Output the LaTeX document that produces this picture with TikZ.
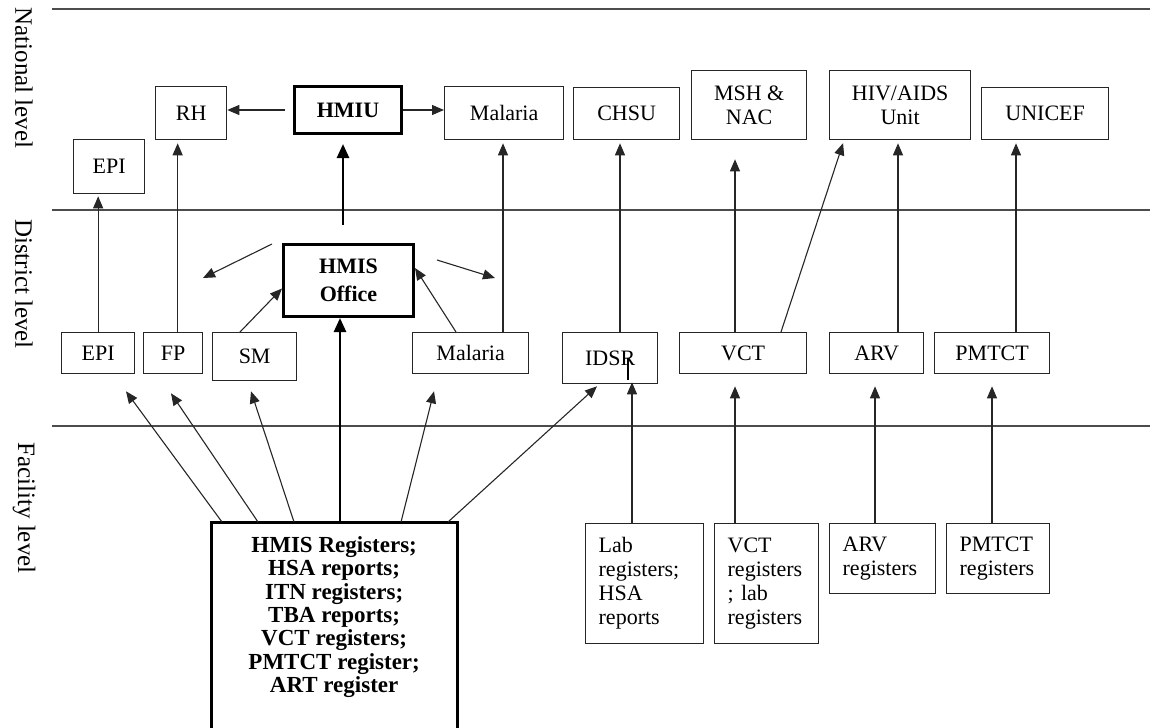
\documentclass[tikz,border=0pt]{standalone}
\usepackage{fontspec}
\setmainfont{Liberation Serif}
\usetikzlibrary{arrows.meta}
\newcommand\myfs{\fontsize{22}{24}\selectfont}
\begin{document}
\begin{tikzpicture}[x=1pt,y=-1pt,
  box/.style={draw=black!85, line width=1.3pt, inner sep=0pt, anchor=north west, align=center, font=\myfs},
  tbox/.style={box, draw=black, line width=3pt, font=\myfs\bfseries},
  lbox/.style={box, align=left, inner xsep=13pt},
  arr/.style={draw=black!85, line width=1.1pt, -{Triangle[length=12pt,width=10pt]}},
  tarr/.style={draw=black, line width=2.6pt, -{Triangle[length=14pt,width=12pt]}},
  lvl/.style={line width=1.5pt, draw=black!70},
  side/.style={rotate=-90, font=\fontsize{25}{27}\selectfont, inner sep=0pt}]
\useasboundingbox (0,0) rectangle (1159,728);
\coordinate (bot) at (0,728);

% level lines
\draw[lvl] (52,9) -- (1150,9);
\draw[lvl] (52,210) -- (1150,210);
\draw[lvl] (52,426) -- (1150,426);

% side labels
\node[side] (natl) at (24,78) {National level};
\node[side] (dist) at (24,284) {District level};
\node[side] (faci) at (24,508) {Facility level};

% national level
\node[box, minimum width=71, minimum height=54] (EPIn) at (73,139) {EPI};
\node[box, minimum width=71, minimum height=53] (RH) at (155,86) {RH};
\node[tbox, minimum width=107, minimum height=47] (HMIU) at (293,85) {HMIU};
\node[box, minimum width=119, minimum height=53] (MALn) at (444,86) {Malaria};
\node[box, minimum width=106, minimum height=52] (CHSU) at (573,87) {CHSU};
\node[box, minimum width=115, minimum height=69] (MSH) at (691,70) {MSH \&\\NAC};
\node[box, minimum width=141, minimum height=69] (HIV) at (829,70) {HIV/AIDS\\Unit};
\node[box, minimum width=127, minimum height=52] (UNICEF) at (981,87) {UNICEF};

% district level
\node[tbox, minimum width=130, minimum height=72, font=\fontsize{22}{28}\selectfont\bfseries] (HMISO) at (282,243) {HMIS\\Office};
\node[box, minimum width=73, minimum height=41] (EPId) at (61,332) {EPI};
\node[box, minimum width=59, minimum height=41] (FP) at (143,332) {FP};
\node[box, minimum width=84, minimum height=48] (SM) at (212,332) {SM};
\node[box, minimum width=116, minimum height=41] (MALd) at (412,332) {Malaria};
\node[box, minimum width=95, minimum height=51] (IDSR) at (562,332) {IDSR};
\node[box, minimum width=127, minimum height=41] (VCT) at (679,332) {VCT};
\node[box, minimum width=94, minimum height=41] (ARV) at (829,332) {ARV};
\node[box, minimum width=115, minimum height=41] (PMTCT) at (934,332) {PMTCT};

% facility level
\node[box, draw=none, minimum width=245, minimum height=189, font=\fontsize{23}{23.3}\selectfont\bfseries] (BIG) at (211,522)
  {HMIS Registers;\\HSA reports;\\ITN registers;\\TBA reports;\\VCT registers;\\PMTCT register;\\ART register};
\draw[line width=3pt, draw=black] (BIG.west |- bot) -- (BIG.north west) -- (BIG.north east) -- (BIG.east |- bot);
\node[lbox, text width=92, minimum height=120] (LAB) at (585,523) {Lab\\registers;\\HSA\\reports};
\node[lbox, text width=78, minimum height=120] (VCTR) at (714,523) {VCT\\registers\\; lab\\registers};
\node[lbox, text width=80, minimum height=70] (ARVR) at (829,523) {ARV\\registers};
\node[lbox, text width=77, minimum height=70] (PMTCTR) at (946,523) {PMTCT\\registers};

% national arrows
\draw[arr, shorten <=8pt] (HMIU.west) -- (HMIU.west -| RH.east);
\draw[arr] (HMIU.east) -- (HMIU.east -| MALn.west);

% district -> national
\draw[arr, shorten >=2pt] (EPId.north) -- (EPId.north |- EPIn.south);
\coordinate (fpT) at ([xshift=4.5pt]FP.north);
\draw[arr, shorten >=3pt] (fpT) -- (fpT |- RH.south);
\coordinate (hoT) at ([xshift=-5.5pt]HMISO.north);
\draw[tarr, shorten <=18pt, shorten >=9pt] (hoT) -- (hoT |- HMIU.south);
\coordinate (mdT) at ([xshift=91pt]MALd.north west);
\draw[arr, shorten >=3pt] (mdT) -- (mdT |- MALn.south);
\coordinate (idT) at ([xshift=58pt]IDSR.north west);
\draw[arr, shorten >=3pt] (idT) -- (idT |- CHSU.south);
\coordinate (vcT) at ([xshift=56pt]VCT.north west);
\draw[arr, shorten >=19pt] (vcT) -- (vcT |- MSH.south);
\coordinate (vcD) at ([xshift=102pt]VCT.north west);
\coordinate (hvB) at ([xshift=15pt]HIV.south west);
\draw[arr, shorten >=3pt] (vcD) -- (hvB);
\coordinate (arT) at ([xshift=69pt]ARV.north west);
\draw[arr, shorten >=3pt] (arT) -- (arT |- HIV.south);
\coordinate (pmT) at ([xshift=82pt]PMTCT.north west);
\draw[arr, shorten >=3pt] (pmT) -- (pmT |- UNICEF.south);

% HMIS office arrows
\coordinate (smT) at ([xshift=28pt]SM.north west);
\draw[arr] (smT) -- ([yshift=-8pt]HMISO.west);
\coordinate (mdS) at ([xshift=44pt]MALd.north west);
\draw[arr] (mdS) -- ([yshift=-25pt]HMISO.north east);
\coordinate (dlS) at ([xshift=-10pt,yshift=-1pt]HMISO.north west);
\coordinate (dlE) at ([xshift=-79pt,yshift=-35pt]HMISO.north west);
\draw[arr] (dlS) -- (dlE);
\coordinate (drS) at ([xshift=22pt,yshift=-17pt]HMISO.north east);
\coordinate (drE) at ([xshift=80pt,yshift=-35pt]HMISO.north east);
\draw[arr] (drS) -- (drE);

% facility -> district
\coordinate (b1) at ([xshift=11pt]BIG.north west);
\coordinate (b2) at ([xshift=47pt]BIG.north west);
\coordinate (b3) at ([xshift=83pt]BIG.north west);
\coordinate (b4) at ([xshift=129pt]BIG.north west);
\coordinate (b5) at ([xshift=190pt]BIG.north west);
\coordinate (b6) at ([xshift=237pt]BIG.north west);
\coordinate (e1) at ([xshift=65pt,yshift=-17pt]EPId.south west);
\coordinate (e2) at ([xshift=28pt,yshift=-19pt]FP.south west);
\coordinate (e3) at ([xshift=39pt,yshift=-10pt]SM.south west);
\coordinate (e5) at ([xshift=22pt,yshift=-17pt]MALd.south west);
\coordinate (e6) at ([xshift=35pt,yshift=-2pt]IDSR.south west);
\draw[arr] (b1) -- (e1);
\draw[arr] (b2) -- (e2);
\draw[arr] (b3) -- (e3);
\draw[tarr] (b4) -- (b4 |- HMISO.south);
\draw[arr] (b5) -- (e5);
\draw[arr] (b6) -- (e6);

\coordinate (lbT) at ([xshift=47pt]LAB.north west);
\draw[arr, shorten >=-2pt] (lbT) -- (lbT |- IDSR.south);
\draw[line width=2.2pt] ([xshift=66pt,yshift=-26pt]IDSR.north west) -- ([xshift=66pt,yshift=-48pt]IDSR.north west);
\coordinate (vrT) at ([xshift=21pt]VCTR.north west);
\draw[arr, shorten >=12pt] (vrT) -- (vrT |- VCT.south);
\coordinate (arR) at ([xshift=46pt]ARVR.north west);
\draw[arr, shorten >=12pt] (arR) -- (arR |- ARV.south);
\coordinate (pmR) at ([xshift=46pt]PMTCTR.north west);
\draw[arr, shorten >=12pt] (pmR) -- (pmR |- PMTCT.south);
\end{tikzpicture}
\end{document}
